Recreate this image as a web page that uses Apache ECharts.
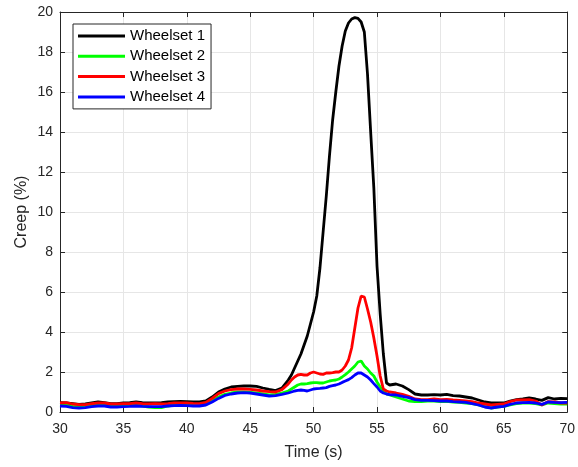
<!DOCTYPE html>
<html>
<head>
<meta charset="utf-8">
<script src="https://cdn.jsdelivr.net/npm/echarts@6/dist/echarts.min.js"></script>
<style>
  html, body { margin: 0; padding: 0; background: #fff; }
  #main { width: 578px; height: 467px; }
</style>
</head>
<body>
<div id="main"></div>
<script>
// time axis (s) - finer steps around the peak
var times = [30,30.5,31,31.5,32,32.5,33,33.5,34,34.5,35,35.5,36,36.5,37,37.5,38,38.5,39,39.5,40,40.5,41,41.5,42,42.5,43,43.5,44,44.5,45,45.5,46,46.5,47,47.5,48,
  48.25,48.5,48.75,49,49.25,49.5,49.75,50,50.25,50.5,50.75,51,51.25,51.5,51.75,52,52.25,52.5,52.75,53,53.25,53.5,53.75,54,54.25,54.5,54.75,55,55.25,55.5,55.75,56,
  56.5,57,57.5,58,58.5,59,59.5,60,60.5,61,61.5,62,62.5,63,63.5,64,64.5,65,65.5,66,66.5,67,67.5,68,68.5,69,69.5,70];

var wheelset1 = [0.47,0.45,0.42,0.38,0.4,0.45,0.5,0.47,0.42,0.42,0.45,0.47,0.5,0.47,0.45,0.45,0.47,0.5,0.52,0.53,0.52,0.5,0.5,0.55,0.75,1.0,1.15,1.25,1.28,1.3,1.3,1.28,1.2,1.13,1.07,1.2,1.6,
  1.85,2.2,2.55,2.9,3.35,3.8,4.4,5.0,5.8,7.2,9.0,10.8,12.8,14.6,16.0,17.3,18.3,19.05,19.45,19.65,19.72,19.68,19.5,19.0,16.9,14.0,11.2,7.3,4.9,2.9,1.45,1.35,
  1.4,1.3,1.12,0.9,0.85,0.85,0.87,0.85,0.88,0.82,0.8,0.75,0.7,0.6,0.5,0.45,0.45,0.45,0.55,0.62,0.65,0.7,0.65,0.58,0.72,0.65,0.68,0.67];

var wheelset2 = [0.35,0.33,0.28,0.25,0.28,0.32,0.35,0.35,0.3,0.28,0.32,0.33,0.35,0.3,0.25,0.22,0.22,0.3,0.35,0.37,0.35,0.33,0.32,0.38,0.55,0.75,0.88,0.95,1.0,1.0,0.98,0.95,0.9,0.85,0.88,0.95,1.05,
  1.15,1.25,1.35,1.4,1.4,1.42,1.45,1.47,1.47,1.45,1.45,1.5,1.55,1.58,1.6,1.65,1.75,1.87,2.0,2.15,2.3,2.5,2.55,2.3,2.15,1.95,1.8,1.5,1.25,1.05,0.9,0.85,
  0.75,0.65,0.55,0.52,0.52,0.55,0.55,0.52,0.53,0.5,0.48,0.45,0.42,0.35,0.27,0.2,0.25,0.28,0.35,0.42,0.45,0.45,0.42,0.35,0.45,0.42,0.4,0.4];

var wheelset3 = [0.45,0.47,0.4,0.37,0.37,0.42,0.45,0.45,0.4,0.4,0.42,0.42,0.45,0.42,0.4,0.42,0.4,0.42,0.45,0.45,0.45,0.43,0.42,0.48,0.68,0.92,1.05,1.12,1.15,1.15,1.13,1.1,1.05,1.02,1.0,1.12,1.4,
  1.6,1.75,1.85,1.88,1.85,1.85,1.95,2.0,1.95,1.9,1.88,1.95,1.95,1.97,2.0,2.0,2.1,2.3,2.6,3.2,4.2,5.2,5.8,5.75,5.15,4.5,3.7,2.8,1.8,1.15,1.05,1.0,
  0.95,0.88,0.78,0.65,0.62,0.62,0.65,0.62,0.63,0.6,0.58,0.55,0.52,0.45,0.4,0.35,0.38,0.4,0.52,0.6,0.6,0.62,0.55,0.35,0.52,0.5,0.45,0.45];

var wheelset4 = [0.3,0.28,0.22,0.2,0.22,0.27,0.3,0.3,0.25,0.25,0.27,0.28,0.3,0.28,0.27,0.27,0.27,0.3,0.32,0.33,0.32,0.3,0.3,0.35,0.5,0.68,0.83,0.9,0.95,0.97,0.95,0.9,0.85,0.8,0.82,0.88,0.95,
  1.0,1.05,1.08,1.1,1.08,1.05,1.1,1.15,1.17,1.18,1.2,1.22,1.28,1.32,1.35,1.4,1.48,1.55,1.62,1.72,1.85,1.95,1.95,1.85,1.75,1.6,1.42,1.25,1.05,0.95,0.9,0.87,
  0.85,0.78,0.72,0.62,0.58,0.58,0.57,0.55,0.55,0.52,0.5,0.48,0.42,0.35,0.25,0.2,0.25,0.28,0.38,0.45,0.47,0.48,0.45,0.38,0.5,0.48,0.47,0.48];

var names = ['Wheelset 1', 'Wheelset 2', 'Wheelset 3', 'Wheelset 4'];
var colors = ['#000000', '#00ff00', '#ff0000', '#0000ff'];
var values = [wheelset1, wheelset2, wheelset3, wheelset4];

var font = 'Arial, "Liberation Sans", sans-serif';
var ink = '#262626';

function pairs(v) {
  return times.map(function (t, i) { return [t, v[i]]; });
}

var chart = echarts.init(document.getElementById('main'), null, { renderer: 'canvas' });

// top / right axes only draw the box and the inward ticks
var boxAxis = {
  axisLine: { show: true, onZero: false, lineStyle: { color: ink, width: 1 } },
  axisTick: { show: true, inside: true, length: 5, lineStyle: { color: ink } },
  axisLabel: { show: false },
  splitLine: { show: false }
};

var option = {
  animation: false,
  backgroundColor: '#ffffff',
  color: colors,
  grid: { left: 60, right: 9, top: 12, bottom: 55 },
  legend: {
    orient: 'vertical',
    left: 73,
    top: 24,
    icon: 'rect',
    itemWidth: 47,
    itemHeight: 3,
    itemGap: 5.3,
    itemTextGap: 4,
    padding: [4.5, 6, 4.5, 5],
    borderColor: ink,
    borderWidth: 1,
    backgroundColor: '#ffffff',
    textStyle: { fontFamily: font, fontSize: 15, color: '#000', lineHeight: 15 },
    data: names
  },
  xAxis: [
    {
      type: 'value', min: 30, max: 70, interval: 5,
      name: 'Time (s)', nameLocation: 'middle', nameGap: 33, nameMoveOverlap: false,
      nameTextStyle: { fontFamily: font, fontSize: 16, color: ink },
      axisLine: { show: true, onZero: false, lineStyle: { color: ink, width: 1 } },
      axisTick: { show: true, inside: true, length: 5, lineStyle: { color: ink } },
      axisLabel: { fontFamily: font, fontSize: 14, color: ink, margin: 10 },
      splitLine: { show: true, lineStyle: { color: '#e6e6e6', width: 1 } }
    },
    Object.assign({ type: 'value', min: 30, max: 70, interval: 5, position: 'top' }, boxAxis)
  ],
  yAxis: [
    {
      type: 'value', min: 0, max: 20, interval: 2,
      name: 'Creep (%)', nameLocation: 'middle', nameGap: 30, nameMoveOverlap: false,
      nameTextStyle: { fontFamily: font, fontSize: 16, color: ink },
      axisLine: { show: true, onZero: false, lineStyle: { color: ink, width: 1 } },
      axisTick: { show: true, inside: true, length: 5, lineStyle: { color: ink } },
      axisLabel: { fontFamily: font, fontSize: 14, color: ink, margin: 7 },
      splitLine: { show: true, lineStyle: { color: '#e6e6e6', width: 1 } }
    },
    Object.assign({ type: 'value', min: 0, max: 20, interval: 2, position: 'right' }, boxAxis)
  ],
  series: names.map(function (n, i) {
    return {
      name: n,
      type: 'line',
      xAxisIndex: 0,
      yAxisIndex: 0,
      data: pairs(values[i]),
      showSymbol: false,
      symbol: 'none',
      clip: true,
      lineStyle: { color: colors[i], width: 2.8 },
      itemStyle: { color: colors[i] }
    };
  })
};

chart.setOption(option);
</script>
</body>
</html>
